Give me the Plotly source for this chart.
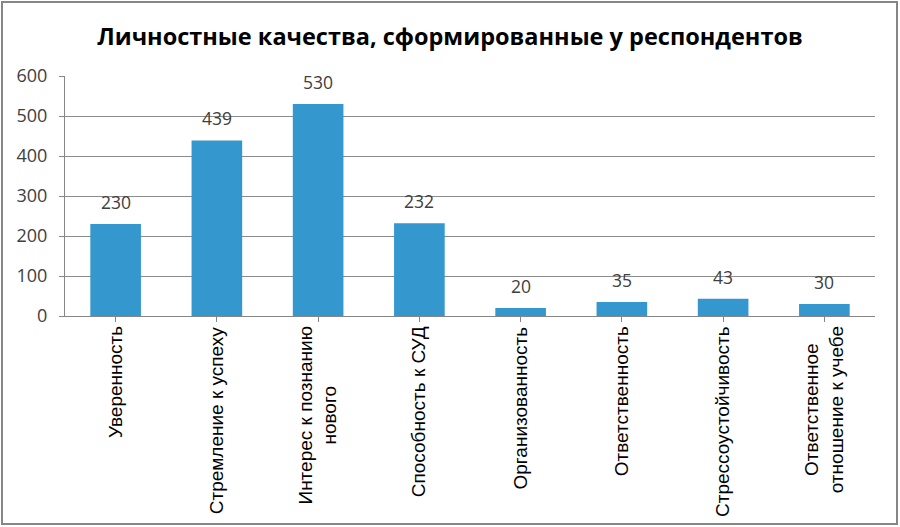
import plotly.graph_objects as go

categories = ["Уверенность", "Стремление к успеху", "Интерес к познанию<br>нового",
              "Способность к СУД", "Организованность", "Ответственность",
              "Стрессоустойчивость", "Ответственное<br>отношение к учебе"]
values = [230, 439, 530, 232, 20, 35, 43, 30]
y_ticks = [0, 100, 200, 300, 400, 500, 600]
title = "Личностные качества, сформированные у респондентов"

W, H = 900, 527
ml, mr, mt, mb = 65, 25, 76, 211
pw, ph = W - ml - mr, H - mt - mb

fig = go.Figure()
fig.add_trace(go.Bar(
    x=list(range(len(categories))), y=values,
    marker=dict(color="#3497cd", line=dict(width=0)),
    width=0.5, hoverinfo="y",
))

for i, v in enumerate(values):
    fig.add_annotation(x=i, xref="x", y=v, yref="y", text=str(v), showarrow=False,
                       yshift=22, xanchor="center", yanchor="middle",
                       font=dict(family="Open Sans", size=17.5, color="#404040"))

for i, c in enumerate(categories):
    fig.add_annotation(x=i, xref="x", y=-0.035, yref="paper", text=c,
                       textangle=-90, showarrow=False, xanchor="center", yanchor="top",
                       align="center",
                       font=dict(family="Liberation Sans", size=19, color="#000000"))

def px_x(p):
    return (p - ml) / pw

def px_y(p):
    return (H - mb - p) / ph

fig.add_shape(type="rect", xref="paper", yref="paper",
              x0=px_x(2), x1=px_x(897), y0=px_y(524), y1=px_y(2),
              line=dict(color="#868686", width=2), fillcolor="rgba(0,0,0,0)", layer="below")

fig.update_layout(
    width=W, height=H,
    margin=dict(l=ml, r=mr, t=mt, b=mb),
    paper_bgcolor="white", plot_bgcolor="white",
    showlegend=False,
    title=dict(text="<b>" + title + "</b>", x=0.5, xref="container", xanchor="center",
               y=1 - 37 / H, yref="container", yanchor="middle",
               font=dict(family="Open Sans", size=23.5, color="#000000")),
    xaxis=dict(range=[-0.5, len(categories) - 0.5], tickvals=list(range(len(categories))),
               showticklabels=False, ticks="outside", ticklen=5, tickcolor="#868686",
               tickson="boundaries", showline=True, linecolor="#868686", linewidth=1,
               showgrid=False, zeroline=False),
    yaxis=dict(range=[0, 600], tickvals=y_ticks, ticks="outside", ticklen=5,
               tickcolor="#868686", showline=True, linecolor="#868686", linewidth=1,
               showgrid=True, gridcolor="#8c8c8c", gridwidth=1, zeroline=False,
               ticklabelstandoff=8,
               tickfont=dict(family="Open Sans", size=18, color="#404040")),
)

fig.write_html("out.html")
